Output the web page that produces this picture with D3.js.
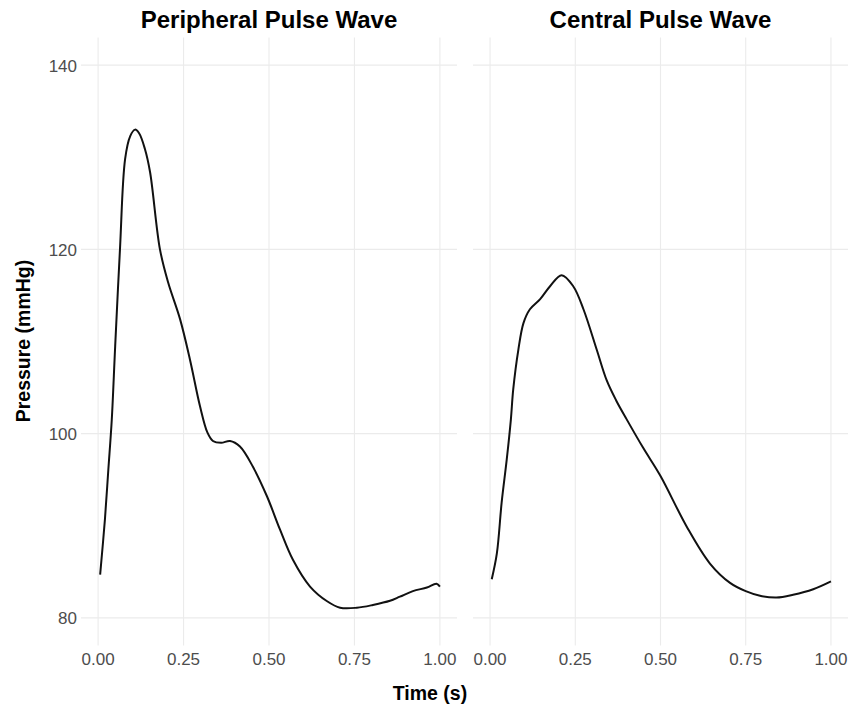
<!DOCTYPE html>
<html>
<head>
<meta charset="utf-8">
<script src="https://cdn.jsdelivr.net/npm/d3@7"></script>
<style>
  html, body { margin: 0; padding: 0; background: #fff; }
  svg { display: block; font-family: "Liberation Sans", Arial, Helvetica, sans-serif; }
</style>
</head>
<body>
<svg id="chart" width="850" height="711"></svg>
<script>
// ---- Data ----
const panelTitles = ["Peripheral Pulse Wave", "Central Pulse Wave"];
const xTicks = [0, 0.25, 0.5, 0.75, 1.0];
const yTicks = [80, 100, 120, 140];

const peripheralTime = [0.006, 0.02, 0.03, 0.04, 0.05, 0.064, 0.079, 0.094, 0.108, 0.12, 0.137, 0.152, 0.181, 0.205, 0.24, 0.269, 0.298, 0.32, 0.336, 0.36, 0.386, 0.415, 0.453, 0.494, 0.532, 0.57, 0.62, 0.67, 0.708, 0.757, 0.804, 0.854, 0.883, 0.921, 0.962, 0.99, 1.0];
const peripheralPressure = [84.7, 90.7, 96.1, 101.5, 109.5, 120, 129.8, 132.3, 133, 132.6, 130.9, 128.4, 120, 116.4, 112.4, 108, 103, 100.1, 99.2, 99.0, 99.2, 98.6, 96.4, 93.2, 89.6, 86.3, 83.4, 81.8, 81.1, 81.1, 81.4, 81.85, 82.3, 82.9, 83.3, 83.7, 83.4];

const centralTime = [0.005, 0.02, 0.034, 0.049, 0.061, 0.068, 0.083, 0.098, 0.117, 0.147, 0.176, 0.21, 0.244, 0.274, 0.313, 0.342, 0.37, 0.4, 0.45, 0.5, 0.577, 0.645, 0.704, 0.75, 0.792, 0.84, 0.889, 0.948, 1.0];
const centralPressure = [84.2, 87, 92.5, 97.2, 101.5, 104.8, 109.1, 112, 113.5, 114.6, 116, 117.2, 116, 113.5, 109.1, 105.8, 103.6, 101.6, 98.4, 95.4, 89.9, 85.9, 83.8, 82.9, 82.4, 82.2, 82.5, 83.1, 83.95];

const series = [
  peripheralTime.map((t, i) => ({t, p: peripheralPressure[i]})),
  centralTime.map((t, i) => ({t, p: centralPressure[i]}))
];

// ---- Layout ----
const svg = d3.select("#chart");
const panelTop = 37.5, panelBottom = 645.5;
const panels = [[81, 457], [473, 848]];

const y = d3.scaleLinear().domain([77, 143]).range([panelBottom, panelTop]);

const fmtX = d3.format(".2f");

panels.forEach((ext, k) => {
  const x = d3.scaleLinear().domain([-0.05, 1.05]).range(ext);
  const g = svg.append("g");

  // grid
  g.selectAll(".gx").data(xTicks).join("line")
    .attr("x1", d => x(d)).attr("x2", d => x(d))
    .attr("y1", panelTop).attr("y2", panelBottom)
    .attr("stroke", "#ebebeb").attr("stroke-width", 1.1);
  g.selectAll(".gy").data(yTicks).join("line")
    .attr("x1", ext[0]).attr("x2", ext[1])
    .attr("y1", d => y(d)).attr("y2", d => y(d))
    .attr("stroke", "#ebebeb").attr("stroke-width", 1.1);

  // x tick labels
  g.selectAll(".tx").data(xTicks).join("text")
    .attr("x", d => x(d)).attr("y", 665)
    .attr("text-anchor", "middle")
    .attr("font-size", 17).attr("fill", "#4d4d4d")
    .text(d => fmtX(d));

  // line
  const line = d3.line().x(d => x(d.t)).y(d => y(d.p)).curve(d3.curveCatmullRom.alpha(0.5));
  g.append("path").datum(series[k])
    .attr("d", line).attr("fill", "none")
    .attr("stroke", "#111").attr("stroke-width", 2)
    .attr("stroke-linejoin", "round").attr("stroke-linecap", "butt");

  // title
  g.append("text")
    .attr("x", (ext[0] + ext[1]) / 2).attr("y", 28)
    .attr("text-anchor", "middle")
    .attr("font-size", 24).attr("font-weight", "bold").attr("fill", "#000")
    .text(panelTitles[k]);
});

// y tick labels (left panel only)
svg.selectAll(".ty").data(yTicks).join("text")
  .attr("x", 77).attr("y", d => y(d) + 6.5)
  .attr("text-anchor", "end")
  .attr("font-size", 17).attr("fill", "#4d4d4d")
  .text(d => d);

// axis titles
svg.append("text")
  .attr("transform", "translate(30,341) rotate(-90)")
  .attr("text-anchor", "middle")
  .attr("font-size", 19.5).attr("font-weight", "bold").attr("fill", "#000")
  .text("Pressure (mmHg)");

svg.append("text")
  .attr("x", 430).attr("y", 700)
  .attr("text-anchor", "middle")
  .attr("font-size", 19.5).attr("font-weight", "bold").attr("fill", "#000")
  .text("Time (s)");
</script>
</body>
</html>
